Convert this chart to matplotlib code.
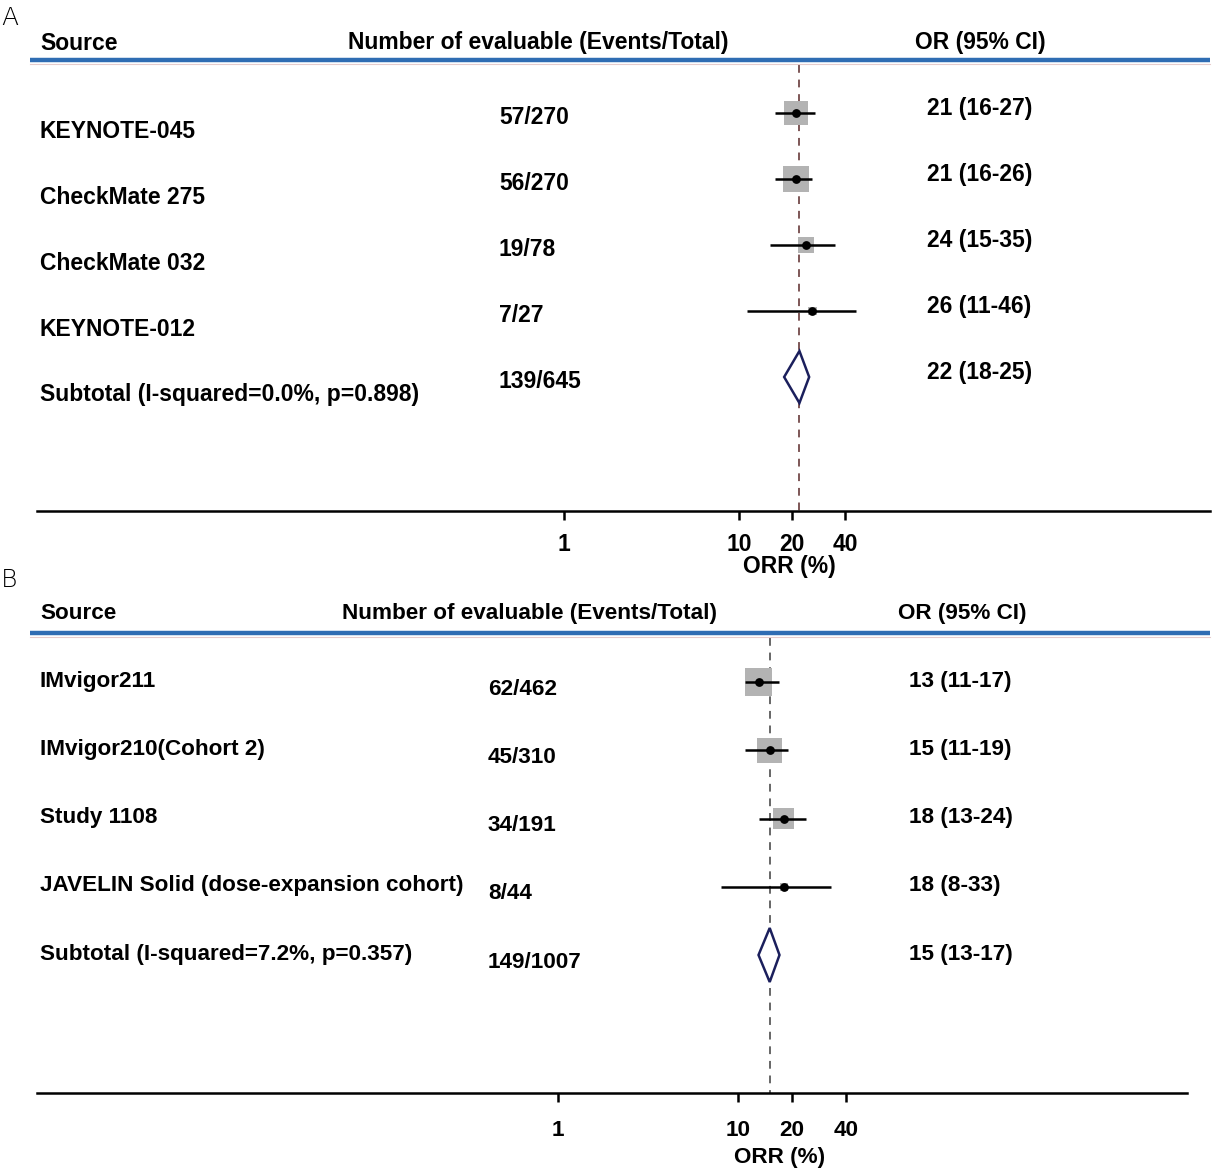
import numpy as np
import matplotlib
matplotlib.use("Agg")
import matplotlib.pyplot as plt
from matplotlib.patches import Polygon
from matplotlib.transforms import blended_transform_factory
from matplotlib.ticker import NullLocator, FixedLocator, FixedFormatter

plt.rcParams['font.family'] = ['Liberation Sans', 'DejaVu Sans']

# --- data: panel A ---
a_names = ["KEYNOTE-045", "CheckMate 275", "CheckMate 032", "KEYNOTE-012"]
a_events = ["57/270", "56/270", "19/78", "7/27"]
a_est = [21, 21, 24, 26]
a_lo = [16, 16, 15, 11]
a_hi = [27, 26, 35, 46]
a_weight = [36, 42, 17, 5]
a_sub_label = "Subtotal (I-squared=0.0%, p=0.898)"
a_sub_events = "139/645"
a_sub = (22, 18, 25)

# --- data: panel B ---
b_names = ["IMvigor211", "IMvigor210(Cohort 2)", "Study 1108",
           "JAVELIN Solid (dose-expansion cohort)"]
b_events = ["62/462", "45/310", "34/191", "8/44"]
b_est = [13, 15, 18, 18]
b_lo = [11, 11, 13, 8]
b_hi = [17, 19, 24, 33]
b_weight = [41, 33, 23, 3]
b_sub_label = "Subtotal (I-squared=7.2%, p=0.357)"
b_sub_events = "149/1007"
b_sub = (15, 13, 17)

tick_vals = [1, 10, 20, 40]
tick_labs = ["1", "10", "20", "40"]

W, H = 1212, 1172
fig = plt.figure(figsize=(W / 100, H / 100), dpi=100)


def panel(names, events, est, lo, hi, weight, sub_label, sub_events, sub,
          g):
    FS = g['fs']
    left, right, top, bot = g['left'], g['right'], g['top'], g['bot']
    ax = fig.add_axes([left / W, 1 - bot / H, (right - left) / W, (bot - top) / H])
    y0, dy = g['y0'], g['dy']
    ax.set_ylim((bot - y0) / dy, (top - y0) / dy)
    ax.set_xscale('log')
    ax.set_xlim(g['xlim'])
    for s in ['top', 'left', 'right']:
        ax.spines[s].set_visible(False)
    ax.spines['bottom'].set_linewidth(1.8)
    ax.set_yticks([])
    ax.xaxis.set_major_locator(FixedLocator(tick_vals))
    ax.xaxis.set_major_formatter(FixedFormatter(tick_labs))
    ax.xaxis.set_minor_locator(NullLocator())
    ax.tick_params(axis='x', length=6.5, width=1.8, pad=g['tick_pad'],
                   labelsize=FS)
    for t in ax.get_xticklabels():
        t.set_fontweight('bold')

    tx = blended_transform_factory(fig.transFigure, ax.transData)
    px = lambda x: x / W
    row = lambda p: (p - y0) / dy

    # header
    hy = row(g['head_y'])
    ax.text(px(40), hy, "Source", transform=tx, fontsize=FS, fontweight='bold',
            va='center', ha='left')
    ax.text(px(g['num_head_x']), hy, "Number of evaluable (Events/Total)",
            transform=tx, fontsize=FS, fontweight='bold', va='center', ha='center')
    ax.text(px(g['or_head_x']), hy, "OR (95% CI)", transform=tx, fontsize=FS,
            fontweight='bold', va='center', ha='center')
    by = row(g['blue_y'])
    ax.plot([px(30), px(1210)], [by, by], transform=tx, color='#2f6db3',
            lw=3.2, clip_on=False, solid_capstyle='butt')
    py = row(g['blue_y'] + 4)
    ax.plot([px(30), px(1210)], [py, py], transform=tx, color='#e6cccc',
            lw=0.8, clip_on=False)

    # reference line at pooled estimate
    ax.plot([sub[0], sub[0]], [row(g['blue_y'] + 5), (bot - y0) / dy],
            color=g['ref_col'], lw=1.4, dashes=(4, 3.5), zorder=1)

    n = len(names)
    ys = np.arange(n)
    sq = g['sq_k'] * np.sqrt(weight) * 0.72
    ax.scatter(est, ys, s=sq ** 2, marker='s', color='#b3b3b3', zorder=2,
               linewidths=0)
    ax.hlines(ys, lo, hi, color='black', lw=1.8, zorder=3)
    ax.scatter(est, ys, s=40, color='black', zorder=4, linewidths=0)

    hd = g['dia_h'] / dy
    yd = n
    dia = Polygon([[sub[1], yd], [sub[0], yd - hd], [sub[2], yd], [sub[0], yd + hd]],
                  closed=True, facecolor='white', edgecolor='#1b1f5c', lw=1.8,
                  zorder=4)
    ax.add_patch(dia)

    labels = names + [sub_label]
    evs = events + [sub_events]
    ors = [f"{e} ({l}-{h})" for e, l, h in zip(est, lo, hi)] + \
          [f"{sub[0]} ({sub[1]}-{sub[2]})"]
    for i in range(n + 1):
        ax.text(px(40), i + g['lab_off'] / dy, labels[i], transform=tx,
                fontsize=FS, fontweight='bold', va='center', ha='left')
        ax.text(px(g['ev_x']), i + g['ev_off'] / dy, evs[i], transform=tx,
                fontsize=FS, fontweight='bold', va='center', ha='left')
        ax.text(px(g['or_x']), i + g['or_off'] / dy, ors[i], transform=tx,
                fontsize=FS, fontweight='bold', va='center', ha='left')

    fig.text(g['xl_x'] / W, 1 - g['xl_y'] / H, "ORR (%)", fontsize=FS,
             fontweight='bold', ha='center', va='center')
    return ax


geom_a = dict(left=37, right=1210, top=20, bot=511, y0=113, dy=66,
              xlim=(10 ** -3.004, 10 ** 3.683), head_y=43, blue_y=60,
              num_head_x=538, or_head_x=980, ev_x=499, or_x=927,
              lab_off=18, ev_off=4, or_off=-5, sq_k=3.9, dia_h=26,
              ref_col='#7d5656', xl_x=789, xl_y=567, tick_pad=9, fs=16.5)
geom_b = dict(left=37, right=1187, top=590, bot=1093, y0=682, dy=68.25,
              xlim=(10 ** -2.892, 10 ** 3.493), head_y=613, blue_y=633,
              num_head_x=530, or_head_x=962, ev_x=488, or_x=909,
              lab_off=-1, ev_off=7, or_off=-1, sq_k=4.37, dia_h=27,
              ref_col='#666666', xl_x=780, xl_y=1157, tick_pad=13, fs=16.2)

panel(a_names, a_events, a_est, a_lo, a_hi, a_weight, a_sub_label,
      a_sub_events, a_sub, geom_a)
panel(b_names, b_events, b_est, b_lo, b_hi, b_weight, b_sub_label,
      b_sub_events, b_sub, geom_b)

fig.text(1 / W, 1 - 18 / H, "A", fontsize=18, family='DejaVu Sans',
         fontweight='light', ha='left', va='center')
fig.text(1 / W, 1 - 580 / H, "B", fontsize=18, family='DejaVu Sans',
         fontweight='light', ha='left', va='center')

fig.savefig("out.png", dpi=100)
